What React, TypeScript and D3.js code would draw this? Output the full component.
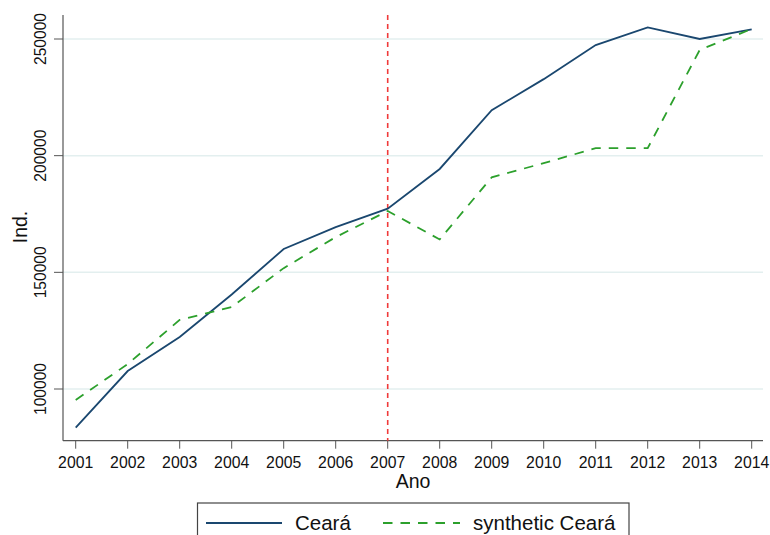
import React from "react";
import * as d3 from "d3";

const years = [2001, 2002, 2003, 2004, 2005, 2006, 2007, 2008, 2009, 2010, 2011, 2012, 2013, 2014];
const ceara = [83400, 107700, 122300, 140500, 160000, 169400, 177300, 194300, 219500, 232800, 247400, 255000, 250000, 254100];
const synthetic = [95300, 110700, 129600, 135100, 151800, 165100, 176300, 164100, 190700, 196800, 203200, 203200, 245300, 254300];
const yTicks = [100000, 150000, 200000, 250000];
const treatYear = 2007;

export default function App() {
  const W = 770, H = 535;
  const x = d3.scaleLinear().domain([2001, 2014]).range([75.7, 751.7]);
  const y = d3.scaleLinear().domain([100000, 250000]).range([389, 39]);
  const top = 15, bottom = 440.7, left = 63, right = 763;
  const line = d3.line<number>().x((_, i) => x(years[i])).y((d) => y(d));
  const font = "Arial, 'Liberation Sans', sans-serif";
  return (
    <svg width={W} height={H} style={{ position: "absolute", left: 0, top: 0 }} fontFamily={font}>
      <rect width={W} height={H} fill="#fff" />
      {yTicks.map((t) => (
        <g key={t}>
          <line x1={left} x2={right} y1={y(t)} y2={y(t)} stroke="#e3efef" strokeWidth={1.5} />
          <line x1={54} x2={left} y1={y(t)} y2={y(t)} stroke="#555" strokeWidth={1} />
          <text transform={`translate(46,${y(t)}) rotate(-90)`} textAnchor="middle" fontSize={15.6} fill="#111">{t}</text>
        </g>
      ))}
      <line x1={left} x2={left} y1={top} y2={bottom} stroke="#555" strokeWidth={1.2} />
      <line x1={left} x2={right} y1={bottom} y2={bottom} stroke="#555" strokeWidth={1.2} />
      {years.map((yr) => (
        <g key={yr}>
          <line x1={x(yr)} x2={x(yr)} y1={bottom} y2={bottom + 8} stroke="#555" strokeWidth={1} />
          <text x={x(yr)} y={468} textAnchor="middle" fontSize={15.8} fill="#111">{yr}</text>
        </g>
      ))}
      <text x={413} y={488} textAnchor="middle" fontSize={19.5} fill="#111">Ano</text>
      <text transform={`translate(27,227) rotate(-90)`} textAnchor="middle" fontSize={19.5} fill="#111">Ind.</text>
      <line x1={x(treatYear)} x2={x(treatYear)} y1={top} y2={bottom} stroke="#f03a3a" strokeWidth={1.6} strokeDasharray="5,4" />
      <path d={line(ceara) || ""} fill="none" stroke="#1a476f" strokeWidth={1.8} />
      <path d={line(synthetic) || ""} fill="none" stroke="#2ca02c" strokeWidth={1.8} strokeDasharray="9.5,8" />
      <rect x={197.5} y={503} width={431.5} height={42} fill="#fff" stroke="#444" strokeWidth={1.2} />
      <line x1={206} x2={282} y1={523} y2={523} stroke="#1a476f" strokeWidth={1.8} />
      <text x={295} y={530} fontSize={20.5} fill="#111">Ceará</text>
      <line x1={383} x2={460} y1={523} y2={523} stroke="#2ca02c" strokeWidth={1.8} strokeDasharray="9.5,8" />
      <text x={473} y={530} fontSize={20.5} fill="#111">synthetic Ceará</text>
    </svg>
  );
}
